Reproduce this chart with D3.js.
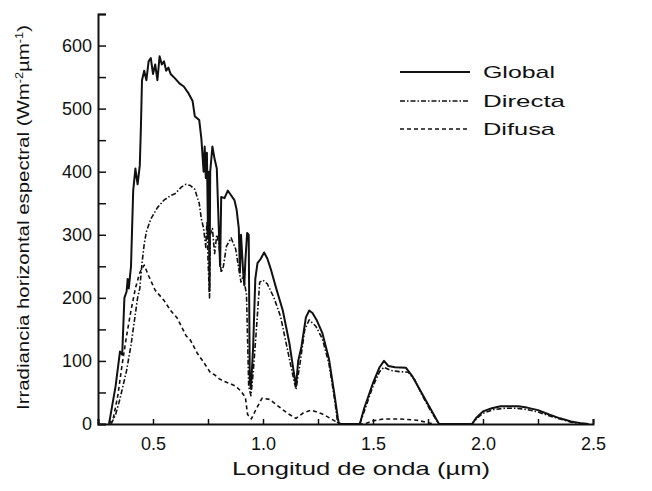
<!DOCTYPE html>
<html><head><meta charset="utf-8">
<script src="https://cdn.jsdelivr.net/npm/d3@7"></script>
<style>body{margin:0;background:#fff}svg{display:block}text{font-family:"Liberation Sans",Arial,sans-serif;fill:#111}</style>
</head><body><svg id="c" width="652" height="491"></svg>
<script>
// ---- data (wavelength µm, W m-2 µm-1) ----
const globalData = [[0.30,0],[0.31,20],[0.33,60],[0.35,115],[0.36,110],[0.37,200],[0.38,210],[0.385,230],[0.39,215],[0.40,250],[0.405,310],[0.41,370],[0.42,405],[0.43,380],[0.44,410],[0.445,470],[0.45,545],[0.46,560],[0.47,545],[0.48,575],[0.49,580],[0.50,555],[0.51,570],[0.52,545],[0.53,583],[0.54,570],[0.55,575],[0.56,560],[0.57,565],[0.58,555],[0.60,548],[0.62,540],[0.64,535],[0.66,525],[0.68,512],[0.69,488],[0.71,482],[0.72,452],[0.73,400],[0.735,440],[0.74,390],[0.745,430],[0.75,300],[0.752,400],[0.757,211],[0.76,400],[0.77,440],[0.78,420],[0.79,405],[0.80,300],[0.805,250],[0.81,360],[0.825,358],[0.84,370],[0.85,365],[0.87,355],[0.88,340],[0.89,310],[0.895,240],[0.90,300],[0.91,240],[0.915,220],[0.92,260],[0.928,303],[0.935,300],[0.94,67],[0.945,56],[0.955,120],[0.965,230],[0.975,255],[0.99,262],[1.005,272],[1.02,262],[1.035,246],[1.06,215],[1.09,180],[1.12,128],[1.14,82],[1.15,60],[1.16,100],[1.175,123],[1.195,169],[1.21,180],[1.225,176],[1.245,164],[1.27,144],[1.30,103],[1.325,46],[1.34,10],[1.345,0],[1.44,0],[1.46,25],[1.50,65],[1.53,90],[1.55,100],[1.57,92],[1.60,90],[1.65,89],[1.68,75],[1.72,50],[1.76,25],[1.80,0],[1.95,0],[1.97,10],[2.00,20],[2.04,25],[2.08,28],[2.12,28],[2.16,28],[2.20,26],[2.25,22],[2.30,15],[2.35,9],[2.40,4],[2.45,1],[2.48,0]];
const directaData = [[0.31,0],[0.33,15],[0.35,40],[0.37,70],[0.38,85],[0.40,125],[0.42,175],[0.43,200],[0.44,215],[0.45,255],[0.46,285],[0.47,305],[0.49,325],[0.52,343],[0.55,355],[0.58,362],[0.60,365],[0.63,376],[0.65,380],[0.67,378],[0.69,372],[0.71,350],[0.72,325],[0.73,310],[0.74,280],[0.745,320],[0.75,260],[0.757,200],[0.76,300],[0.77,310],[0.78,270],[0.79,300],[0.80,285],[0.81,240],[0.82,250],[0.834,282],[0.855,295],[0.876,277],[0.89,246],[0.90,225],[0.91,235],[0.925,205],[0.935,60],[0.945,45],[0.955,80],[0.97,150],[0.985,225],[1.0,228],[1.02,222],[1.05,200],[1.08,170],[1.11,120],[1.14,70],[1.15,55],[1.17,100],[1.19,150],[1.21,165],[1.24,155],[1.27,135],[1.30,95],[1.325,40],[1.34,0],[1.44,0],[1.46,20],[1.50,60],[1.53,83],[1.55,90],[1.58,85],[1.62,83],[1.66,82],[1.69,70],[1.72,48],[1.76,22],[1.80,0],[1.95,0],[1.97,8],[2.00,17],[2.05,23],[2.10,25],[2.15,25],[2.20,23],[2.25,19],[2.30,13],[2.35,8],[2.40,3],[2.45,0]];
const difusaData = [[0.30,0],[0.32,10],[0.34,45],[0.36,95],[0.38,140],[0.40,180],[0.42,215],[0.44,240],[0.46,252],[0.48,235],[0.51,212],[0.55,196],[0.58,180],[0.61,168],[0.65,140],[0.67,133],[0.70,113],[0.73,98],[0.76,82],[0.78,78],[0.80,72],[0.82,68],[0.85,64],[0.876,60],[0.90,52],[0.92,42],[0.93,15],[0.947,8],[0.968,23],[0.996,41],[1.03,39],[1.07,28],[1.115,16],[1.15,9],[1.185,18],[1.22,22],[1.27,16],[1.31,8],[1.34,2],[1.36,0],[1.46,0],[1.50,5],[1.55,8],[1.62,8],[1.70,6],[1.75,2],[1.78,0]];
const xTicks = [0.25,0.5,0.75,1.0,1.25,1.5,1.75,2.0,2.25,2.5];
const xLabels = [0.5,1.0,1.5,2.0,2.5];
const yTicks = [0,50,100,150,200,250,300,350,400,450,500,550,600,650];
const yLabels = [0,100,200,300,400,500,600];
const seriesNames = ["Global","Directa","Difusa"];

const svg = d3.select("#c");
const x = d3.scaleLinear().domain([0.25,2.5]).range([98,593]);
const y = d3.scaleLinear().domain([0,650]).range([424,14]);

// axes
const gx = svg.append("g").attr("transform","translate(0,424)")
  .call(d3.axisBottom(x).tickValues(xTicks).tickSize(-5).tickPadding(13)
    .tickFormat(d => xLabels.some(v=>Math.abs(v-d)<1e-9) ? d3.format(".1f")(d) : ""));
gx.select(".domain").attr("stroke","#111").attr("stroke-width",2);
gx.selectAll(".tick line").attr("stroke","#111").attr("stroke-width",1.5);
gx.selectAll(".tick text").style("font-size","18px").attr("fill","#222");

const gy = svg.append("g").attr("transform","translate(98,0)")
  .call(d3.axisLeft(y).tickValues(yTicks).tickSize(-8).tickPadding(6)
    .tickFormat(d => yLabels.includes(d) ? d : ""));
gy.select(".domain").attr("stroke","#111").attr("stroke-width",2);
gy.selectAll(".tick line").attr("stroke","#111").attr("stroke-width",1.5);
gy.selectAll(".tick text").style("font-size","18px").attr("fill","#222");

// lines
const line = d3.line().x(d=>x(d[0])).y(d=>y(d[1]));
const styles = [
  {data:globalData, w:2, dash:null},
  {data:directaData, w:1.6, dash:"5,2,1.5,2"},
  {data:difusaData, w:1.6, dash:"4,3"}
];
styles.forEach(s=>{
  svg.append("path").datum(s.data).attr("d",line).attr("fill","none")
    .attr("stroke","#111").attr("stroke-width",s.w)
    .attr("stroke-dasharray",s.dash).attr("stroke-linejoin","round");
});

// legend
const legY = [72,101,129];
seriesNames.forEach((n,i)=>{
  svg.append("line").attr("x1",400).attr("x2",470).attr("y1",legY[i]).attr("y2",legY[i])
    .attr("stroke","#111").attr("stroke-width",i===0?2:1.6).attr("stroke-dasharray",styles[i].dash);
  svg.append("text").attr("x",483).attr("y",legY[i]+6).style("font-size","17px")
    .attr("textLength",[72,82,72][i]).attr("lengthAdjust","spacingAndGlyphs").text(n);
});

// axis titles
svg.append("text").attr("x",232).attr("y",475).style("font-size","19px")
  .attr("textLength",258).attr("lengthAdjust","spacingAndGlyphs").text("Longitud de onda (µm)");
const yt = svg.append("text").attr("transform","translate(29,410) rotate(-90)")
  .style("font-size","16px").attr("textLength",385).attr("lengthAdjust","spacingAndGlyphs");
yt.append("tspan").text("Irradiancia horizontal espectral (Wm");
yt.append("tspan").attr("dy",-6).style("font-size","10px").text("-2");
yt.append("tspan").attr("dy",6).text("µm");
yt.append("tspan").attr("dy",-6).style("font-size","10px").text("-1");
yt.append("tspan").attr("dy",6).text(")");
</script></body></html>
